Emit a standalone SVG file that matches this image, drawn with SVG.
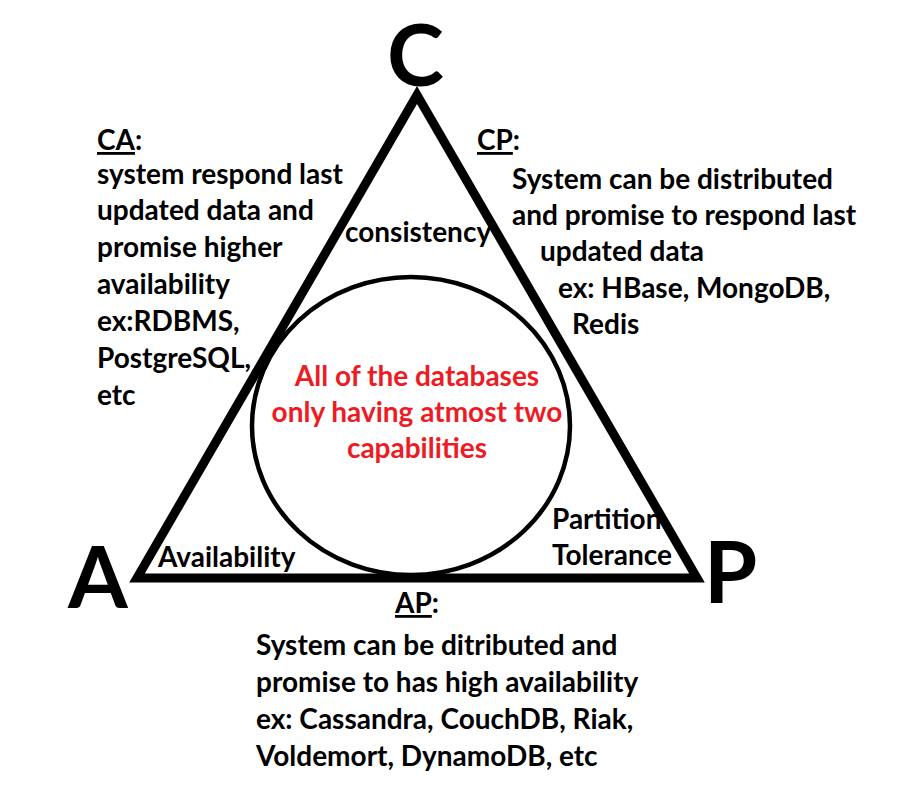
<svg xmlns="http://www.w3.org/2000/svg" width="907" height="786" viewBox="0 0 907 786">
<style>
text{font-family:Lato,"Open Sans","Liberation Sans",sans-serif;font-weight:bold;fill:#000}
.t{font-size:28px}
.big{font-size:86px}
.red{fill:#ed1c24;font-size:28px;text-anchor:middle}
.u{text-decoration:underline}
</style>
<rect width="907" height="786" fill="#fff"/>
<g id="shapes">
<polygon id="triangle" points="417,95 697,578 137,578" fill="none" stroke="#000" stroke-width="9" stroke-linejoin="miter"/>
<ellipse id="circle" cx="411" cy="426" rx="159" ry="149" fill="none" stroke="#000" stroke-width="4.5"/>
</g>
<g id="vertex-C"><text class="big" x="387" y="86">C</text></g>
<g id="vertex-A"><text class="big" x="68" y="608">A</text></g>
<g id="vertex-P"><text class="big" x="704" y="603">P</text></g>
<g id="inner-labels">
<text class="t" x="345" y="242">consistency</text>
<text class="t" x="158" y="567">Availability</text>
<text class="t" x="552" y="529">Partition</text>
<text class="t" x="552" y="565">Tolerance</text>
</g>
<g id="center-note">
<text class="red" x="417" y="386">All of the databases</text>
<text class="red" x="417" y="422">only having atmost two</text>
<text class="red" x="417" y="458">capabilities</text>
</g>
<g id="CA">
<text class="t" x="97" y="150"><tspan class="u">CA</tspan>:</text>
<text class="t" x="97" y="184">system respond last</text>
<text class="t" x="97" y="220">updated data and</text>
<text class="t" x="97" y="257">promise higher</text>
<text class="t" x="97" y="294">availability</text>
<text class="t" x="97" y="331">ex:RDBMS,</text>
<text class="t" x="97" y="368">PostgreSQL,</text>
<text class="t" x="97" y="405">etc</text>
</g>
<g id="CP">
<text class="t" x="477" y="150"><tspan class="u">CP</tspan>:</text>
<text class="t" x="512" y="189">System can be distributed</text>
<text class="t" x="512" y="225">and promise to respond last</text>
<text class="t" x="540" y="261">updated data</text>
<text class="t" x="558" y="298">ex: HBase, MongoDB,</text>
<text class="t" x="572" y="334">Redis</text>
</g>
<g id="AP">
<text class="t" x="395" y="613"><tspan class="u">AP</tspan>:</text>
<text class="t" x="256" y="655">System can be ditributed and</text>
<text class="t" x="256" y="692">promise to has high availability</text>
<text class="t" x="256" y="729">ex: Cassandra, CouchDB, Riak,</text>
<text class="t" x="256" y="766">Voldemort, DynamoDB, etc</text>
</g>
</svg>
